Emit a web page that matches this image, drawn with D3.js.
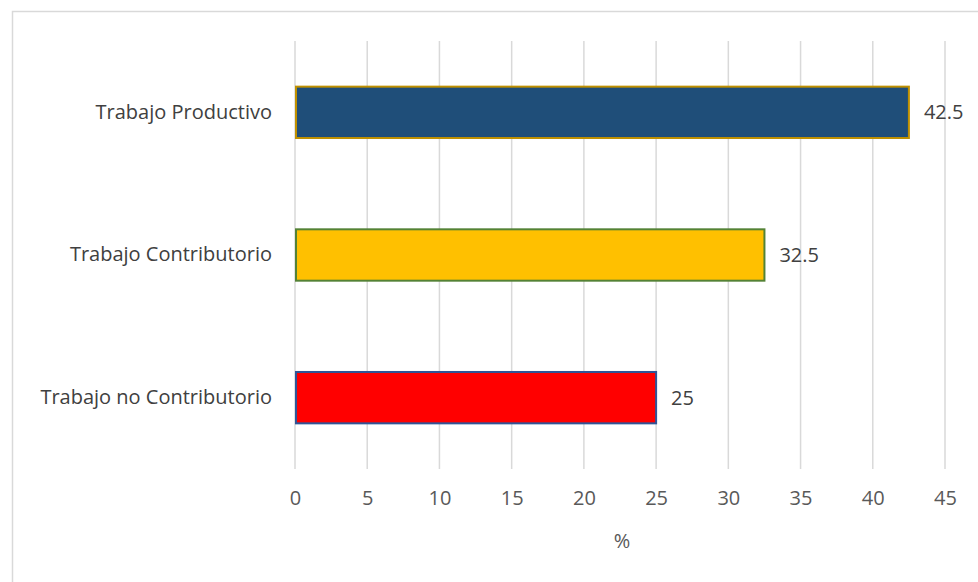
<!DOCTYPE html>
<html>
<head>
<meta charset="utf-8">
<script src="https://cdn.jsdelivr.net/npm/d3@7"></script>
<style>
  body { margin: 0; background: #fff; }
  text { font-family: "Open Sans", sans-serif; }
</style>
</head>
<body>
<div id="app"></div>
<script>
// data
const categories = ["Trabajo Productivo", "Trabajo Contributorio", "Trabajo no Contributorio"];
const values = [42.5, 32.5, 25];
const fills = ["#1f4e79", "#ffc000", "#ff0000"];
const strokes = ["#bf9000", "#548235", "#2f5597"];
const ticks = [0, 5, 10, 15, 20, 25, 30, 35, 40, 45];

const W = 978, H = 582;
const margin = { top: 41, left: 295, right: 33, bottom: 113 };
const fontSize = 20;
let width = W - margin.left - margin.right;
let height = H - margin.top - margin.bottom;

let svg = d3.select("#app")
  .append("svg")
    .attr("width", W)
    .attr("height", H);

// outer frame
svg.append("rect")
  .attr("x", 12.5).attr("y", 11.5)
  .attr("width", W).attr("height", H)
  .attr("fill", "none")
  .attr("stroke", "#d9d9d9")
  .attr("stroke-width", 1.5);

let g = svg.append("g")
  .attr("transform", `translate(${margin.left},${margin.top})`);

const x = d3.scaleLinear().domain([0, 45]).range([0, width]);
const y = d3.scaleBand().domain(categories).range([0, height]).paddingInner(0.64).paddingOuter(0.32);

// gridlines
g.selectAll("line.grid")
  .data(ticks)
  .join("line")
    .attr("class", "grid")
    .attr("x1", d => x(d)).attr("x2", d => x(d))
    .attr("y1", 0).attr("y2", height)
    .attr("stroke", "#d9d9d9")
    .attr("stroke-width", 1.5);

// x axis
let xAxis = g.append("g")
  .attr("font-size", fontSize)
  .attr("transform", `translate(0,${height})`)
  .call(d3.axisBottom(x).tickValues(ticks).tickSize(0).tickPadding(22));
xAxis.select(".domain").remove();
xAxis.selectAll("text")
  .style("font-family", "'Open Sans', sans-serif")
  .style("font-size", fontSize + "px")
  .attr("fill", "#595959");

g.append("text")
  .attr("text-anchor", "middle")
  .attr("x", x(22.5) + 2)
  .attr("y", height + 79)
  .style("font-size", fontSize + "px")
  .attr("fill", "#595959")
  .text("%");

// y labels
let yAxis = g.append("g")
  .call(d3.axisLeft(y).tickSize(0).tickPadding(23));
yAxis.select(".domain").remove();
yAxis.selectAll("text")
  .style("font-family", "'Open Sans', sans-serif")
  .style("font-size", fontSize + "px")
  .attr("fill", "#404040");

// bars
g.selectAll("rect.bar")
  .data(values)
  .join("rect")
    .attr("class", "bar")
    .attr("x", x(0) + 1)
    .attr("y", (d, i) => y(categories[i]))
    .attr("width", d => x(d) - x(0) - 1)
    .attr("height", y.bandwidth())
    .attr("fill", (d, i) => fills[i])
    .attr("stroke", (d, i) => strokes[i])
    .attr("stroke-width", 2);

// value labels
g.selectAll("text.val")
  .data(values)
  .join("text")
    .attr("class", "val")
    .attr("x", d => x(d) + 15)
    .attr("y", (d, i) => y(categories[i]) + y.bandwidth() / 2)
    .attr("dy", "0.35em")
    .style("font-size", fontSize + "px")
    .attr("fill", "#404040")
    .text(d => d);
</script>
</body>
</html>
